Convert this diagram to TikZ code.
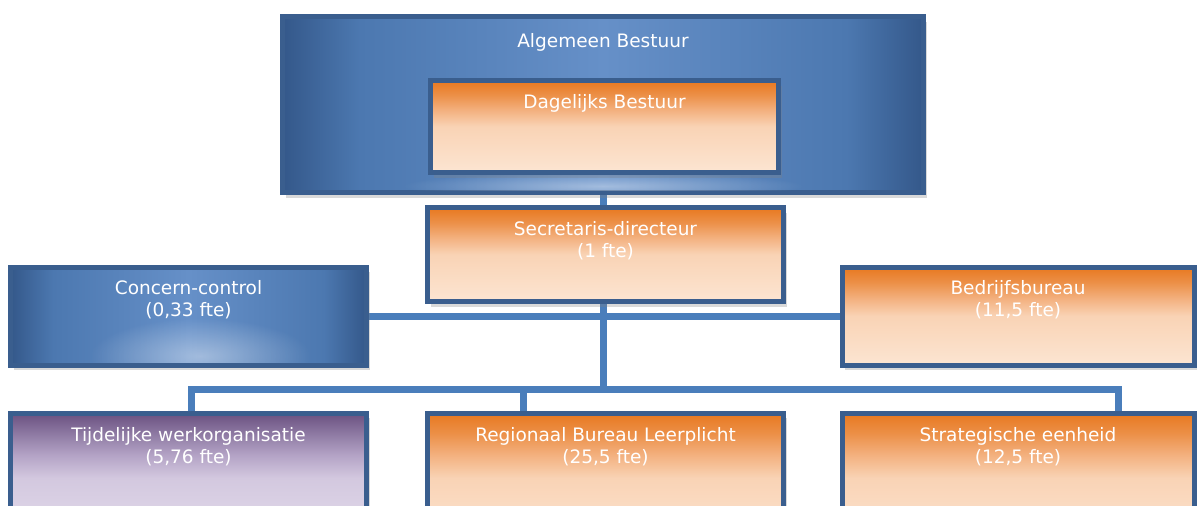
\documentclass[tikz,border=0pt]{standalone}
\usepackage{fontspec}
\setmainfont{DejaVu Sans}
\usetikzlibrary{shadows,backgrounds,fadings}
\tikzfading[name=glowfade, inner color=transparent!0, outer color=transparent!100]
\definecolor{bordblue}{HTML}{3A5E8E}
\definecolor{linkblue}{HTML}{4A7EBB}
\definecolor{bluedark}{HTML}{34588A}
\definecolor{bluemid}{HTML}{4C78B0}
\definecolor{bluelight}{HTML}{6690C8}
\definecolor{orangetop}{HTML}{E8781F}
\definecolor{orangeup}{HTML}{EC9048}
\definecolor{orangemid}{HTML}{F3B07E}
\definecolor{orangepeach}{HTML}{F9D3B5}
\definecolor{orangebot}{HTML}{FCE5D2}
\definecolor{purptop}{HTML}{6A5080}
\definecolor{purpup}{HTML}{8E7AA3}
\definecolor{purpmid}{HTML}{B3A2C5}
\definecolor{purppeach}{HTML}{D3C8DF}
\definecolor{purpbot}{HTML}{E4DDEC}
\pgfdeclareverticalshading{orangeshade}{100bp}{color(0bp)=(orangebot); color(25bp)=(orangebot); color(50bp)=(orangepeach); color(59bp)=(orangemid); color(67bp)=(orangeup); color(75bp)=(orangetop); color(100bp)=(orangetop)}
\pgfdeclareverticalshading{purpleshade}{100bp}{color(0bp)=(purpbot); color(25bp)=(purpbot); color(50bp)=(purppeach); color(59bp)=(purpmid); color(67bp)=(purpup); color(75bp)=(purptop); color(100bp)=(purptop)}
\pgfdeclarehorizontalshading{blueshade}{100bp}{color(0bp)=(bluedark); color(25bp)=(bluedark); color(31bp)=(bluemid); color(50bp)=(bluelight); color(69bp)=(bluemid); color(75bp)=(bluedark); color(100bp)=(bluedark)}
\tikzset{
  box/.style={draw=bordblue, line width=5pt, inner sep=0pt,
    drop shadow={shadow xshift=3pt, shadow yshift=-5pt, opacity=0.3}},
  bluebox/.style={box, shade, shading=blueshade},
  orangebox/.style={box, shade, shading=orangeshade},
  purplebox/.style={box, shade, shading=purpleshade},
  txt/.style={text=white, font=\fontsize{18.5}{22}\selectfont, align=center, inner sep=0pt},
  link/.style={draw=linkblue, line width=7pt},
  glow/.style={fill=white, fill opacity=0.4, path fading=glowfade},
}
\begin{document}
\begin{tikzpicture}[x=1pt,y=-1pt]
\useasboundingbox (0,0) rectangle (1197,506);
\clip (0,0) rectangle (1197,506);
% boxes
\node[bluebox, minimum width=641pt, minimum height=176pt] (ab) at (603,104.5) {};
\begin{scope}
\clip (285,19) rectangle (921,190);
\path[glow] (603,186) ellipse (200 and 14);
\end{scope}
\node[txt] (abt) at ([yshift=-28pt]ab.north) {Algemeen Bestuur};
\node[orangebox, minimum width=348pt, minimum height=92pt] (db) at (604.5,126.5) {};
\node[txt] (dbt) at ([yshift=-25pt]db.north) {Dagelijks Bestuur};
\node[orangebox, minimum width=356pt, minimum height=94pt] (sd) at (605.5,254.5) {};
\node[txt] (sdt) at ([yshift=-36pt]sd.north) {Secretaris-directeur\\(1 fte)};
\node[bluebox, minimum width=356pt, minimum height=98pt] (cc) at (188.5,316) {};
\begin{scope}
\clip (13,268) rectangle (364,362);
\path[glow] (200,356) ellipse (110 and 38);
\end{scope}
\node[txt] (cct) at ([yshift=-35pt]cc.north) {Concern-control\\(0,33 fte)};
\node[orangebox, minimum width=352pt, minimum height=98pt] (bb) at (1018,316) {};
\node[txt] (bbt) at ([yshift=-35pt]bb.north) {Bedrijfsbureau\\(11,5 fte)};
\node[purplebox, minimum width=356pt, minimum height=130pt] (tw) at (188.5,478) {};
\node[txt] (twt) at ([yshift=-36pt]tw.north) {Tijdelijke werkorganisatie\\(5,76 fte)};
\node[orangebox, minimum width=356pt, minimum height=130pt] (rb) at (605.5,478) {};
\node[txt] (rbt) at ([yshift=-36pt]rb.north) {Regionaal Bureau Leerplicht\\(25,5 fte)};
\node[orangebox, minimum width=352pt, minimum height=130pt] (se) at (1018,478) {};
\node[txt] (set) at ([yshift=-36pt]se.north) {Strategische eenheid\\(12,5 fte)};
% connectors
\begin{scope}[on background layer]
\coordinate (bar) at (603,389);
\draw[link] (ab.south -| sd.north) ++(-2.5,0) -- ([xshift=-2.5pt]sd.north);
\draw[link] ([xshift=-2.5pt]sd.south) -- (bar);
\draw[link] (cc.east) -- (bb.west);
\draw[link] ([xshift=2.5pt]tw.north) |- ([xshift=100pt]se.north |- bar) -- ([xshift=100pt]se.north);
\draw[link] ([xshift=-82pt]rb.north) -- ([xshift=-82pt]rb.north |- bar);
\end{scope}
\end{tikzpicture}
\end{document}
